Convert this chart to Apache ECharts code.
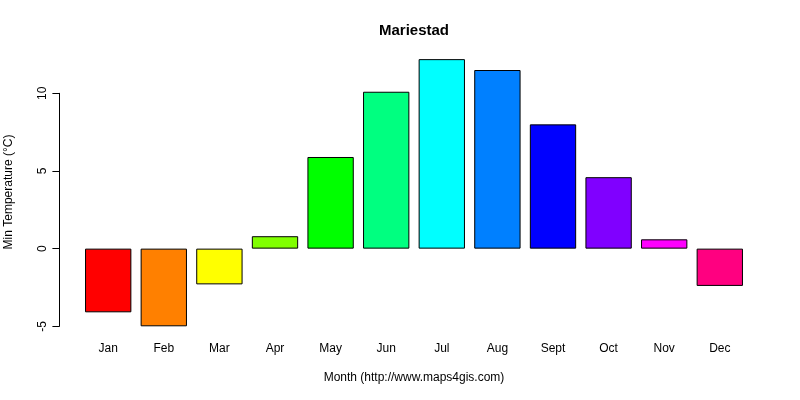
<!DOCTYPE html>
<html><head><meta charset="utf-8">
<script src="https://cdn.jsdelivr.net/npm/echarts@6/dist/echarts.min.js"></script>
<style>html,body{margin:0;padding:0;background:#fff}#c{width:800px;height:400px}</style>
</head><body><div id="c"></div>
<script>
const months = ['Jan','Feb','Mar','Apr','May','Jun','Jul','Aug','Sept','Oct','Nov','Dec'];
const minTemp = [-4.1, -5.0, -2.3, 0.8, 5.9, 10.1, 12.2, 11.5, 8.0, 4.6, 0.6, -2.4];
const barColors = ['#FF0000','#FF8000','#FFFF00','#80FF00','#00FF00','#00FF80','#00FFFF','#0080FF','#0000FF','#8000FF','#FF00FF','#FF0080'];
const yTicks = [-5, 0, 5, 10];
const titleText = 'Mariestad';
const xName = 'Month (http://www.maps4gis.com)';
const yName = 'Min Temperature (°C)';

const font = 'Liberation Sans, Arial, sans-serif';
const chart = echarts.init(document.getElementById('c'));
chart.setOption({
  animation: false,
  backgroundColor: '#fff',
  textStyle: {fontFamily: font},
  grid: {left: 80.4, right: 52.4, top: 93.3, bottom: 73.7, containLabel: false},
  xAxis: {
    type: 'category', data: months,
    axisLine: {show: false}, axisTick: {show: false}, splitLine: {show: false},
    axisLabel: {color: '#000', fontSize: 12, margin: 16, fontFamily: font}
  },
  yAxis: {
    type: 'value', min: yTicks[0], max: yTicks[yTicks.length - 1], interval: 5,
    offset: 21,
    axisLine: {show: true, lineStyle: {color: '#000', width: 1}},
    axisTick: {show: true, length: 7, lineStyle: {color: '#000'}},
    splitLine: {show: false},
    axisLabel: {color: '#000', fontSize: 12, rotate: 90, margin: 11, fontFamily: font}
  },
  series: [{
    type: 'bar', clip: false,
    barCategoryGap: '16.67%',
    data: minTemp.map((v, i) => ({value: v, itemStyle: {color: barColors[i]}})),
    itemStyle: {borderColor: '#000', borderWidth: 1}
  }],
  graphic: [
    {type: 'text', style: {text: titleText, x: 414, y: 31, align: 'center', verticalAlign: 'middle', font: 'bold 15px ' + font, fill: '#000'}},
    {type: 'text', style: {text: xName, x: 414, y: 378, align: 'center', verticalAlign: 'middle', font: '12px ' + font, fill: '#000'}},
    {type: 'text', x: 9, y: 192, rotation: Math.PI / 2, style: {text: yName, x: 0, y: 0, align: 'center', verticalAlign: 'middle', font: '12px ' + font, fill: '#000'}}
  ]
});
</script>
</body></html>
